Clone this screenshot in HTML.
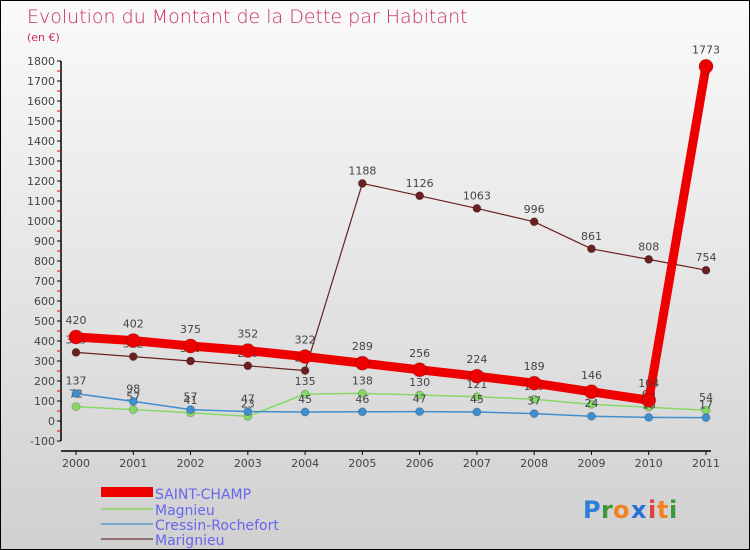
<!DOCTYPE html>
<html><head><meta charset="utf-8"><style>
body{margin:0;}
#wrap{width:750px;height:550px;position:relative;box-sizing:border-box;border:1px solid #000;background:linear-gradient(#fafafa,#d0d0d0);font-family:"DejaVu Sans","Liberation Sans",sans-serif;overflow:hidden;}
svg text{font-family:"DejaVu Sans","Liberation Sans",sans-serif;}
</style></head><body>
<div id="wrap">
<svg id="chart" width="750" height="550">
<text x="26" y="22" font-size="19" fill="#c8305a" style="font-weight:200">Evolution du Montant de la Dette par Habitant</text>
<text x="26" y="40" font-size="11" fill="#c8305a">(en €)</text>
<g id="axes"></g><g id="series"></g>
<g id="legend">
<rect x="100" y="486" width="52" height="10" fill="#ee0000"/>
<text x="154" y="498" font-size="14" fill="#6666ee">SAINT-CHAMP</text>
<rect x="100" y="522" width="52" height="2" fill="#7aa6cc"/>
<text x="154" y="514" font-size="14" fill="#6666ee">Magnieu</text>
<rect x="100" y="507" width="52" height="2" fill="#9bd47a"/>
<text x="154" y="529" font-size="14" fill="#6666ee">Cressin-Rochefort</text>
<rect x="100" y="537" width="52" height="2" fill="#8f6f6f"/>
<text x="154" y="544" font-size="14" fill="#6666ee">Marignieu</text>
</g>
<g font-size="24" font-weight="bold">
<text x="582" y="517" fill="#2a7fd8">P</text><text x="600" y="517" fill="#3a9a3a">r</text><text x="612" y="517" fill="#f08020">o</text><text x="630" y="517" fill="#2a6fd8">x</text><text x="647" y="517" fill="#e04040">i</text><text x="656" y="517" fill="#f08020">t</text><text x="668" y="517" fill="#3a9a3a">i</text>
</g>
</svg>
</div>
<script>
const years=[2000,2001,2002,2003,2004,2005,2006,2007,2008,2009,2010,2011];
const saintChamp=[420,402,375,352,322,289,256,224,189,146,104,1773];
const magnieu=[137,98,57,47,45,46,47,45,37,24,18,17];
const cressin=[72,57,41,23,135,138,130,121,109,83,69,54];
const marignieu=[343,322,300,276,252,1188,1126,1063,996,861,808,754];
const yTicks=[-100,0,100,200,300,400,500,600,700,800,900,1000,1100,1200,1300,1400,1500,1600,1700,1800];
const NS="http://www.w3.org/2000/svg";
function x(i){return 75+i*(705-75)/11;}
function y(v){return 420-v*0.2;}
function mk(tag,attrs,parent){const e=document.createElementNS(NS,tag);for(const k in attrs)e.setAttribute(k,attrs[k]);parent.appendChild(e);return e;}
const ax=document.getElementById('axes');
let l=mk('line',{x1:60,y1:y(1800),x2:60,y2:y(-100),stroke:'#000','stroke-width':1.5},ax);


l=mk('line',{x1:60,y1:450,x2:710,y2:450,stroke:'#000','stroke-width':1.5},ax);


yTicks.forEach(v=>{
 mk('line',{x1:56,y1:y(v),x2:60,y2:y(v),stroke:'#000'},ax);
 if(v<1800) mk('line',{x1:56,y1:y(v+50),x2:60,y2:y(v+50),stroke:'#e00'},ax);
 const t=mk('text',{x:54,y:y(v)+4,'font-size':11,'text-anchor':'end',fill:'#444'},ax);
 t.textContent=v;
 
 
});
years.forEach((yr,i)=>{
 mk('line',{x1:x(i),y1:450,x2:x(i),y2:454,stroke:'#000'},ax);
 const t=mk('text',{x:x(i),y:466,'font-size':11,'text-anchor':'middle',fill:'#444'},ax);
 t.textContent=yr;
 
 
});
const sg=document.getElementById('series');
function series(vals,color,w,r,name,labelDy){
 const g=mk('g',{},sg);
 
 
 const p=mk('polyline',{points:vals.map((v,i)=>x(i)+','+y(v)).join(' '),fill:'none',stroke:color,'stroke-width':w,'stroke-linejoin':'round'},g);
 
 
 vals.forEach((v,i)=>{
  const c=mk('circle',{cx:x(i),cy:y(v),r:r,fill:color,stroke:'rgba(0,0,0,0.2)'},g);
  
  
  const t=mk('text',{x:x(i),y:y(v)-labelDy,'font-size':11,'text-anchor':'middle',fill:'#444'},g);
  t.textContent=v;
  
  
 });
}
series(marignieu,'#6b2020',1.2,4,'marignieu',9);
series(cressin,'#88d866',1.5,4,'cressin-rochefort',9);
series(magnieu,'#3f8fd0',1.5,4,'magnieu',9);
series(saintChamp,'#ee0000',9,7,'saint-champ',13);
</script>
</body></html>
